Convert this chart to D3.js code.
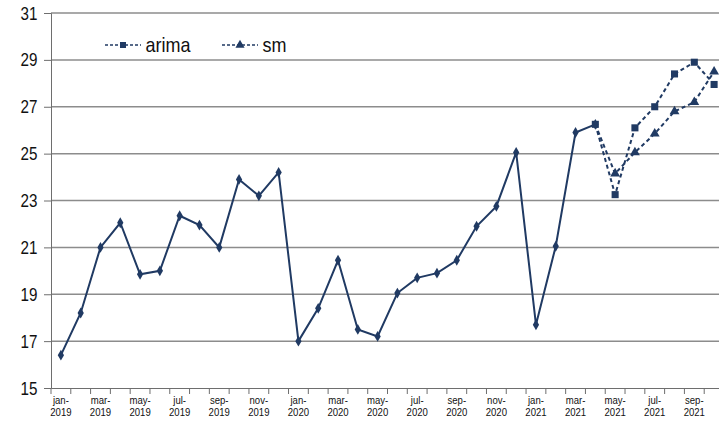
<!DOCTYPE html>
<html>
<head>
<meta charset="utf-8">
<script src="https://cdn.jsdelivr.net/npm/d3@7"></script>
<style>
  body { margin: 0; background: #fff; }
  svg { display: block; font-family: "Liberation Sans", Arial, sans-serif; }
</style>
</head>
<body>
<svg width="719" height="421"></svg>
<script>
// months jan-2019 .. oct-2021
let months = ["jan-2019","feb-2019","mar-2019","apr-2019","may-2019","jun-2019","jul-2019","aug-2019","sep-2019","oct-2019","nov-2019","dec-2019",
              "jan-2020","feb-2020","mar-2020","apr-2020","may-2020","jun-2020","jul-2020","aug-2020","sep-2020","oct-2020","nov-2020","dec-2020",
              "jan-2021","feb-2021","mar-2021","apr-2021","may-2021","jun-2021","jul-2021","aug-2021","sep-2021","oct-2021"];
// observed series, jan-2019 .. apr-2021
let actual = [16.4, 18.2, 21.0, 22.05, 19.85, 20.0, 22.35, 21.95, 21.0, 23.9, 23.2, 24.2,
              17.0, 18.4, 20.45, 17.5, 17.2, 19.05, 19.7, 19.9, 20.45, 21.9, 22.75, 25.05,
              17.7, 21.05, 25.9, 26.25];
// forecasts, apr-2021 .. oct-2021
let fcMonths = ["apr-2021","may-2021","jun-2021","jul-2021","aug-2021","sep-2021","oct-2021"];
let arima = [26.25, 23.25, 26.1, 27.0, 28.4, 28.9, 27.95];
let sm    = [26.25, 24.15, 25.05, 25.85, 26.8, 27.2, 28.5];
let yTicks = [15, 17, 19, 21, 23, 25, 27, 29, 31];

let navy = "#203a63";
let svg = d3.select("svg");

let x = d3.scaleBand().domain(months).range([51, 724]);
let y = d3.scaleLinear().domain([15, 31]).range([388, 13]);
let cx = d => x(d) + x.bandwidth() / 2;

// gridlines
svg.append("g").selectAll("line")
  .data(yTicks.slice(1))
  .enter().append("line")
  .attr("x1", 51).attr("x2", 724)
  .attr("y1", d => y(d)).attr("y2", d => y(d))
  .attr("stroke", "#8c8c8c").attr("stroke-width", 1.5);

// y axis
let yAxis = svg.append("g")
  .attr("transform", "translate(51,0)")
  .call(d3.axisLeft(y).tickValues(yTicks).tickSize(7).tickPadding(8).tickFormat(d3.format("d")));
yAxis.select(".domain").attr("stroke", "#6e6e6e");
yAxis.selectAll(".tick line").attr("stroke", "#6e6e6e");
yAxis.selectAll("text")
  .attr("font-size", 19).attr("fill", "#111")
  .attr("font-family", "Liberation Sans, Arial, sans-serif")
  .attr("transform", "scale(0.8,1)")
  .attr("x", -17);

// x axis (labels drawn by hand as two lines)
let xAxis = svg.append("g")
  .attr("transform", "translate(0,388)")
  .call(d3.axisBottom(x).tickSize(0).tickFormat(""));
xAxis.select(".domain").attr("stroke", "#6e6e6e");
xAxis.selectAll(".tick text").remove();
xAxis.selectAll(".tick").each(function(d, i) {
  if (i % 2 !== 0) return;
  let parts = d.split("-");
  let g = d3.select(this);
  [parts[0] + "-", parts[1]].forEach((s, k) => {
    g.append("text")
      .attr("transform", "translate(0," + (16 + k * 12) + ") scale(0.87,1)")
      .attr("text-anchor", "middle")
      .attr("font-size", 11).attr("fill", "#111")
      .attr("font-family", "Liberation Sans, Arial, sans-serif")
      .text(s);
  });
});
// boundary ticks between months
xAxis.append("g").selectAll("line")
  .data(months.concat(["end"]))
  .enter().append("line")
  .attr("x1", (d, i) => i < months.length ? x(d) : x.range()[1])
  .attr("x2", (d, i) => i < months.length ? x(d) : x.range()[1])
  .attr("y1", 0).attr("y2", 6)
  .attr("stroke", "#6e6e6e");

// lines
let line = d3.line().x(d => cx(d[0])).y(d => y(d[1]));

svg.append("path")
  .datum(actual.map((v, i) => [months[i], v]))
  .attr("d", line)
  .attr("fill", "none").attr("stroke", navy).attr("stroke-width", 2);

svg.append("path")
  .datum(sm.map((v, i) => [fcMonths[i], v]))
  .attr("d", line)
  .attr("fill", "none").attr("stroke", navy).attr("stroke-width", 2)
  .attr("stroke-dasharray", "4,3");

svg.append("path")
  .datum(arima.map((v, i) => [fcMonths[i], v]))
  .attr("d", line)
  .attr("fill", "none").attr("stroke", navy).attr("stroke-width", 2)
  .attr("stroke-dasharray", "4,3");

// markers
let diamond = d3.symbol().type(d3.symbolDiamond).size(34);
let square = d3.symbol().type(d3.symbolSquare).size(50);
let tri = d3.symbol().type(d3.symbolTriangle).size(42);

svg.append("g").selectAll("path")
  .data(actual)
  .enter().append("path")
  .attr("d", diamond)
  .attr("transform", (d, i) => "translate(" + cx(months[i]) + "," + y(d) + ")")
  .attr("fill", navy);

svg.append("g").selectAll("path")
  .data(sm.slice(1))
  .enter().append("path")
  .attr("d", tri)
  .attr("transform", (d, i) => "translate(" + cx(fcMonths[i + 1]) + "," + y(d) + ")")
  .attr("fill", navy);

svg.append("g").selectAll("path")
  .data(arima)
  .enter().append("path")
  .attr("d", square)
  .attr("transform", (d, i) => "translate(" + cx(fcMonths[i]) + "," + y(d) + ")")
  .attr("fill", navy);

// legend
let legend = [
  {name: "arima", sym: square, x: 105},
  {name: "sm", sym: tri, x: 222}
];
let lg = svg.append("g").selectAll("g")
  .data(legend)
  .enter().append("g")
  .attr("transform", d => "translate(" + d.x + ",45)");
lg.append("line")
  .attr("x1", 0).attr("x2", 36).attr("y1", 0).attr("y2", 0)
  .attr("stroke", navy).attr("stroke-width", 1.5).attr("stroke-dasharray", "3,2");
lg.append("path")
  .attr("d", d => d.sym.size(36)())
  .attr("transform", "translate(18,0)")
  .attr("fill", navy);
lg.append("text")
  .attr("x", 41).attr("y", 7)
  .attr("font-size", 20).attr("fill", "#111")
  .attr("transform", "scale(0.9,1)")
  .attr("dx", 4)
  .text(d => d.name);
</script>
</body>
</html>
